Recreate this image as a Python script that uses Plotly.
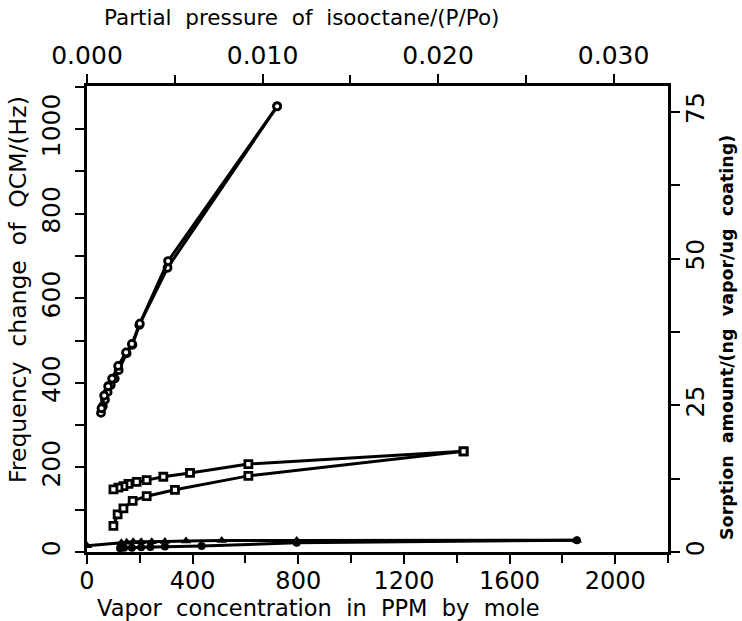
import plotly.graph_objects as go

# Circles (upper isotherm): adsorption and desorption branches
circ_ads_ppm = [53, 60, 68, 78, 90, 105, 120, 150, 172, 198, 305, 720]
circ_ads_hz = [329, 345, 360, 378, 395, 410, 430, 470, 490, 537, 672, 1054]
circ_des_ppm = [720, 307, 200, 170, 148, 118, 95, 80, 65, 55]
circ_des_hz = [1054, 688, 540, 492, 472, 440, 410, 392, 370, 340]

# Squares (middle isotherm)
sq_ads_ppm = [100, 116, 138, 173, 226, 333, 611, 1426]
sq_ads_hz = [62, 89, 103, 121, 132, 147, 180, 238]
sq_des_ppm = [1426, 611, 390, 289, 226, 188, 157, 138, 119, 100]
sq_des_hz = [238, 208, 187, 178, 170, 166, 161, 156, 152, 148]

# Triangles (bottom isotherm)
tri_ads_ppm = [0, 130, 150, 175, 205, 245, 295, 375, 510, 794, 1855]
tri_ads_hz = [15, 22, 23, 24, 24, 24, 25, 26, 27, 27, 28]
tri_des_ppm = [1855, 794, 434, 295, 240, 205, 170, 140, 125]
tri_des_hz = [28, 22, 14, 13, 12, 11, 10, 10, 9]

# Axis ticks
x_ticks = [0, 400, 800, 1200, 1600, 2000]
x2_ticks = [0.0, 0.01, 0.02, 0.03]
x2_labels = ["0.000", "0.010", "0.020", "0.030"]
y_ticks = [0, 200, 400, 600, 800, 1000]
y2_ticks = [0, 25, 50, 75]

FONT = "DejaVu Sans"
BLACK = "black"
SP = "\u00a0 "  # wide word gaps as in the original typesetting


def wide(s):
    return s.replace(" ", SP)


fig = go.Figure()


def add(xs, ys, sym, size):
    fig.add_trace(go.Scatter(
        x=xs, y=ys, mode="lines+markers",
        line=dict(color=BLACK, width=3),
        marker=dict(symbol=sym, size=size, color="white",
                    line=dict(color=BLACK, width=2.8)),
        showlegend=False, hoverinfo="skip"))


add(circ_ads_ppm, circ_ads_hz, "circle", 7)
add(circ_des_ppm, circ_des_hz, "circle", 7)
add(sq_ads_ppm, sq_ads_hz, "square", 7)
add(sq_des_ppm, sq_des_hz, "square", 7)
fig.add_trace(go.Scatter(x=tri_ads_ppm, y=tri_ads_hz, mode="lines+markers",
                         line=dict(color=BLACK, width=3),
                         marker=dict(symbol="triangle-up", size=9, color=BLACK),
                         showlegend=False, hoverinfo="skip"))
fig.add_trace(go.Scatter(x=tri_des_ppm, y=tri_des_hz, mode="lines+markers",
                         line=dict(color=BLACK, width=3),
                         marker=dict(symbol="circle", size=8, color=BLACK),
                         showlegend=False, hoverinfo="skip"))

# hidden trace to register secondary axes
fig.add_trace(go.Scatter(x=[0], y=[0], xaxis="x2", yaxis="y2", mode="markers",
                         marker=dict(opacity=0), showlegend=False, hoverinfo="skip"))

axis_common = dict(showline=True, linecolor=BLACK, linewidth=2.5, ticks="outside",
                   ticklen=9, tickwidth=2.2, tickcolor=BLACK, showgrid=False,
                   zeroline=False, tickfont=dict(family=FONT, size=25, color=BLACK))

fig.update_layout(
    width=742, height=621,
    paper_bgcolor="white", plot_bgcolor="white",
    margin=dict(l=87, r=74, t=86, b=69),
    xaxis=dict(range=[0, 2200], tickvals=x_ticks,
               minor=dict(dtick=200, ticks="outside", ticklen=8, tickwidth=2.2, tickcolor=BLACK),
               ticklabelstandoff=-4,
               **{**axis_common, "tickfont": dict(family=FONT, size=24, color=BLACK)}),
    xaxis2=dict(range=[0, 0.0331], overlaying="x", side="top", anchor="y",
                tickvals=x2_ticks, ticktext=x2_labels,
                minor=dict(dtick=0.005, ticks="outside", ticklen=8, tickwidth=2.2, tickcolor=BLACK),
                **axis_common),
    yaxis=dict(range=[0, 1102], tickvals=y_ticks, tickangle=-90,
               minor=dict(dtick=100, ticks="outside", ticklen=9, tickwidth=2.2, tickcolor=BLACK),
               ticklabelstandoff=5, **axis_common),
    yaxis2=dict(range=[0, 79.4], overlaying="y", side="right", anchor="x",
                tickvals=y2_ticks, tickangle=-90,
                minor=dict(dtick=12.5, ticks="outside", ticklen=9, tickwidth=2.2, tickcolor=BLACK),
                ticklabelstandoff=-6, **axis_common),
    annotations=[
        dict(text=wide("Vapor concentration in PPM by mole"), xref="paper", yref="paper",
             x=(318 - 87) / 581, y=-(608 - 552) / 466, showarrow=False,
             xanchor="center", yanchor="middle",
             font=dict(family=FONT, size=22.5, color=BLACK)),
        dict(text=wide("Partial pressure of isooctane/(P/Po)"), xref="paper", yref="paper",
             x=(302 - 87) / 581, y=1 + (86 - 18) / 466, showarrow=False,
             xanchor="center", yanchor="middle",
             font=dict(family=FONT, size=21.5, color=BLACK)),
        dict(text=wide("Frequency change of QCM/(Hz)"), xref="paper", yref="paper",
             x=-(87 - 18) / 581, y=(552 - 290) / 466, showarrow=False, textangle=-90,
             xanchor="center", yanchor="middle",
             font=dict(family=FONT, size=23.5, color=BLACK)),
        dict(text="<b>" + wide("Sorption amount/(ng vapor/ug coating)") + "</b>",
             xref="paper", yref="paper",
             x=1 + (727 - 668) / 581, y=(552 - 337) / 466, showarrow=False, textangle=-90,
             xanchor="center", yanchor="middle",
             font=dict(family=FONT, size=17.5, color=BLACK)),
    ],
)

fig.write_html("out.html", config={"displayModeBar": False},
               post_script="document.body.style.margin='0';document.body.style.overflow='hidden';")
